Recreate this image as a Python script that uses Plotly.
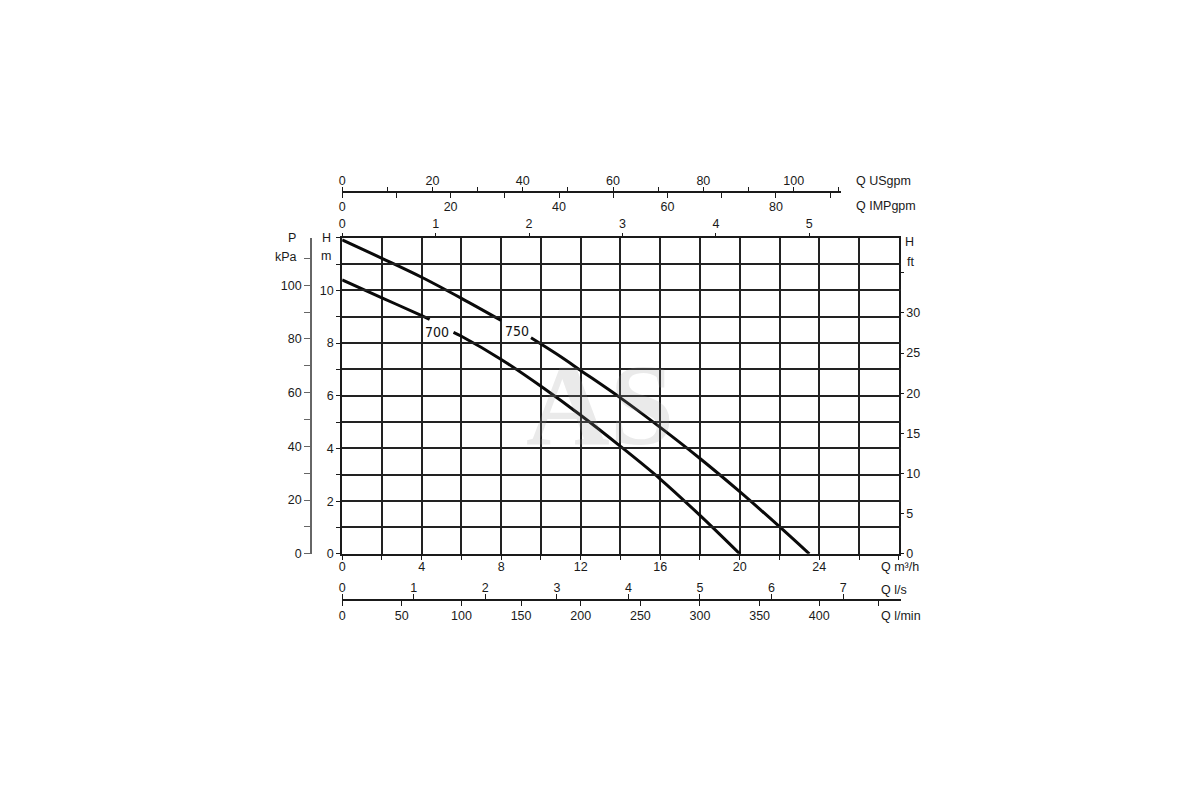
import plotly.graph_objs as go

# pump curves: Q in m3/h, H in m (None = gap for the label)
q_700 = [0, 2, 4, 4.4, None, 5.6, 6, 8, 10, 12, 14, 16, 18, 20]
h_700 = [10.4, 9.72, 9.04, 8.9, None, 8.41, 8.26, 7.38, 6.36, 5.26, 4.08, 2.84, 1.46, 0]
q_750 = [0, 2, 4, 6, 8, None, 9.5, 11, 12, 14, 16, 18, 20, 22, 23.5]
h_750 = [11.92, 11.22, 10.5, 9.7, 8.86, None, 8.2, 7.48, 6.96, 5.92, 4.8, 3.62, 2.36, 1.03, 0]

curve_names = ['700', '750']
label_q = [4.79, 8.78]
label_h = [8.44, 8.47]

# axis ticks
m3h_ticks = [0, 2, 4, 6, 8, 10, 12, 14, 16, 18, 20, 22, 24, 26, 28]
m3h_labels = ['0', '', '4', '', '8', '', '12', '', '16', '', '20', '', '24', '', '']
hm_ticks = [0, 1, 2, 3, 4, 5, 6, 7, 8, 9, 10, 11, 12]
hm_labels = ['0', '', '2', '', '4', '', '6', '', '8', '', '10', '', '']
kpa_ticks = [0, 10, 20, 30, 40, 50, 60, 70, 80, 90, 100, 110]
kpa_labels = ['0', '', '20', '', '40', '', '60', '', '80', '', '100', '']
ft_ticks = [0, 5, 10, 15, 20, 25, 30, 35]
ft_labels = ['0', '5', '10', '15', '20', '25', '30', '']
top_ticks = [0, 1, 2, 3, 4, 5]
top_labels = ['0', '1', '2', '3', '4', '5']
usgpm_ticks = [0, 10, 20, 30, 40, 50, 60, 70, 80, 90, 100, 110]
usgpm_labels = ['0', '', '20', '', '40', '', '60', '', '80', '', '100', '']
impgpm_ticks = [0, 10, 20, 30, 40, 50, 60, 70, 80, 90]
impgpm_labels = ['0', '', '20', '', '40', '', '60', '', '80', '']
ls_ticks = [0, 1, 2, 3, 4, 5, 6, 7]
ls_labels = ['0', '1', '2', '3', '4', '5', '6', '7']
lmin_ticks = [0, 50, 100, 150, 200, 250, 300, 350, 400, 450]
lmin_labels = ['0', '50', '100', '150', '200', '250', '300', '350', '400', '']

# unit conversions from m3/h and m
Q_MAX = 28.0
H_MAX = 12.0
KPA_PER_M = 9.80665
FT_PER_M = 1 / 0.3048
USGPM = 4.40287
IMPGPM = 3.66615
LS = 1 / 3.6
LMIN = 1000 / 60.0
TOP_UNIT = 1 / 4.7
TOP_SPAN = 25.09
BOT_SPAN = 28.1

FONT = 'Liberation Sans, Arial, sans-serif'
INK = '#1a1a1a'


def px(x, y):
    # picture pixel -> paper fraction (page offset measured on the first renders)
    fx = x - 10
    fy = (y - 8.1) / 0.989
    return fx / 1200.0, 1 - fy / 800.0


LEFT, TOP = px(342, 237.3)
RIGHT, BOTTOM = px(900, 552.7)
PLOT_W = RIGHT - LEFT


def free_axis(rng, ticks, labels, side, y, span, standoff, color=INK):
    return dict(range=rng, tickmode='array', tickvals=ticks, ticktext=labels,
                side=side, anchor='free', position=px(0, y)[1],
                domain=[LEFT, LEFT + span / Q_MAX * PLOT_W],
                showline=True, linecolor=color, linewidth=1.5,
                ticks='outside', ticklen=5, tickwidth=1.3, tickcolor=color,
                ticklabelstandoff=standoff,
                showgrid=False, zeroline=False,
                tickfont=dict(family=FONT, size=12.5, color=INK))


def build_figure():
    traces = []
    for q, h in [(q_700, h_700), (q_750, h_750)]:
        traces.append(go.Scatter(x=q, y=h, mode='lines',
                                 line=dict(color='#0a0a0a', width=3, shape='spline', smoothing=1),
                                 connectgaps=False, hoverinfo='skip', showlegend=False))
    # empty traces so that every extra axis gets drawn
    for xa, ya in [('x', 'y2'), ('x', 'y3'), ('x2', 'y'), ('x3', 'y'), ('x4', 'y'), ('x5', 'y'), ('x6', 'y')]:
        traces.append(go.Scatter(x=[0], y=[0], xaxis=xa, yaxis=ya, mode='markers',
                                 marker=dict(opacity=0, size=1), hoverinfo='skip', showlegend=False))

    axis_font = dict(family=FONT, size=12.5, color=INK)
    layout = go.Layout(
        width=1200, height=800,
        margin=dict(l=0, r=0, t=0, b=0),
        paper_bgcolor='white', plot_bgcolor='rgba(0,0,0,0)',
        showlegend=False,
        xaxis=dict(domain=[LEFT, RIGHT], range=[0, Q_MAX], tickmode='array', tickvals=m3h_ticks, ticktext=m3h_labels,
                   showgrid=True, gridcolor='#222222', gridwidth=1.6, zeroline=False,
                   showline=True, linecolor=INK, linewidth=2, mirror=True,
                   ticks='outside', ticklen=4, tickcolor=INK, tickfont=axis_font, anchor='y',
                   ticklabelstandoff=-4),
        yaxis=dict(domain=[BOTTOM, TOP], range=[0, H_MAX], tickmode='array', tickvals=hm_ticks, ticktext=hm_labels,
                   showgrid=True, gridcolor='#222222', gridwidth=1.6, zeroline=False,
                   showline=True, linecolor=INK, linewidth=2, mirror=True,
                   ticks='outside', ticklen=4, tickcolor=INK, tickfont=axis_font, anchor='x'),
        yaxis2=dict(overlaying='y', side='left', anchor='free', position=px(310.7, 0)[0],
                    range=[0, H_MAX * KPA_PER_M], tickmode='array', tickvals=kpa_ticks, ticktext=kpa_labels,
                    showline=True, linecolor='#666666', linewidth=1.5, showgrid=False, zeroline=False,
                    ticks='outside', ticklen=6, tickcolor='#666666', tickfont=axis_font),
        yaxis3=dict(overlaying='y', side='right', anchor='x',
                    range=[0, H_MAX * FT_PER_M], tickmode='array', tickvals=ft_ticks, ticktext=ft_labels,
                    showline=False, showgrid=False, zeroline=False,
                    ticks='outside', ticklen=4, tickcolor=INK, tickfont=axis_font),
        xaxis2=dict(overlaying='x', side='top', anchor='y',
                    range=[0, Q_MAX * TOP_UNIT], tickmode='array', tickvals=top_ticks, ticktext=top_labels,
                    showline=False, showgrid=False, zeroline=False,
                    ticks='outside', ticklen=4, tickcolor=INK, tickfont=axis_font),
        xaxis3=free_axis([0, TOP_SPAN * USGPM], usgpm_ticks, usgpm_labels, 'top', 192, TOP_SPAN, -3),
        xaxis4=free_axis([0, TOP_SPAN * IMPGPM], impgpm_ticks, impgpm_labels, 'bottom', 192, TOP_SPAN, -2),
        xaxis5=free_axis([0, BOT_SPAN * LS], ls_ticks, ls_labels, 'top', 599, BOT_SPAN, -3),
        xaxis6=free_axis([0, BOT_SPAN * LMIN], lmin_ticks, lmin_labels, 'bottom', 599, BOT_SPAN, -1),
    )

    notes = []
    # curve names
    for name, q, h in zip(curve_names, label_q, label_h):
        notes.append(dict(x=q, y=h, xref='x', yref='y', text=name, showarrow=False,
                          font=dict(family='DejaVu Sans Condensed, Liberation Sans Narrow, sans-serif',
                                    size=14, color='#111111')))
    # unit titles
    titles = [('Q USgpm', 855, 181, 'left'), ('Q IMPgpm', 855, 206, 'left'),
              ('Q m³/h', 880, 566, 'left'), ('Q l/s', 880, 589, 'left'), ('Q l/min', 880, 615, 'left'),
              ('H', 326, 238, 'center'), ('m', 326, 256, 'center'),
              ('P', 292, 238, 'center'), ('kPa', 286, 257, 'center'),
              ('H', 911, 242, 'center'), ('ft', 912, 262, 'center')]
    for text, x, y, anchor in titles:
        xp, yp = px(x, y)
        notes.append(dict(x=xp, y=yp, xref='paper', yref='paper', text=text, showarrow=False,
                          xanchor=anchor, yanchor='middle', font=dict(family=FONT, size=12.5, color=INK)))
    # watermark
    xp, yp = px(600, 404)
    notes.append(dict(x=xp, y=yp, xref='paper', yref='paper', text='<b>AS</b>', showarrow=False,
                      font=dict(family='Liberation Serif, serif', size=116, color='rgba(150,150,150,0.2)')))
    layout.annotations = notes

    return go.Figure(data=traces, layout=layout)


def main():
    fig = build_figure()
    fig.write_html('out.html')


if __name__ == '__main__':
    main()
